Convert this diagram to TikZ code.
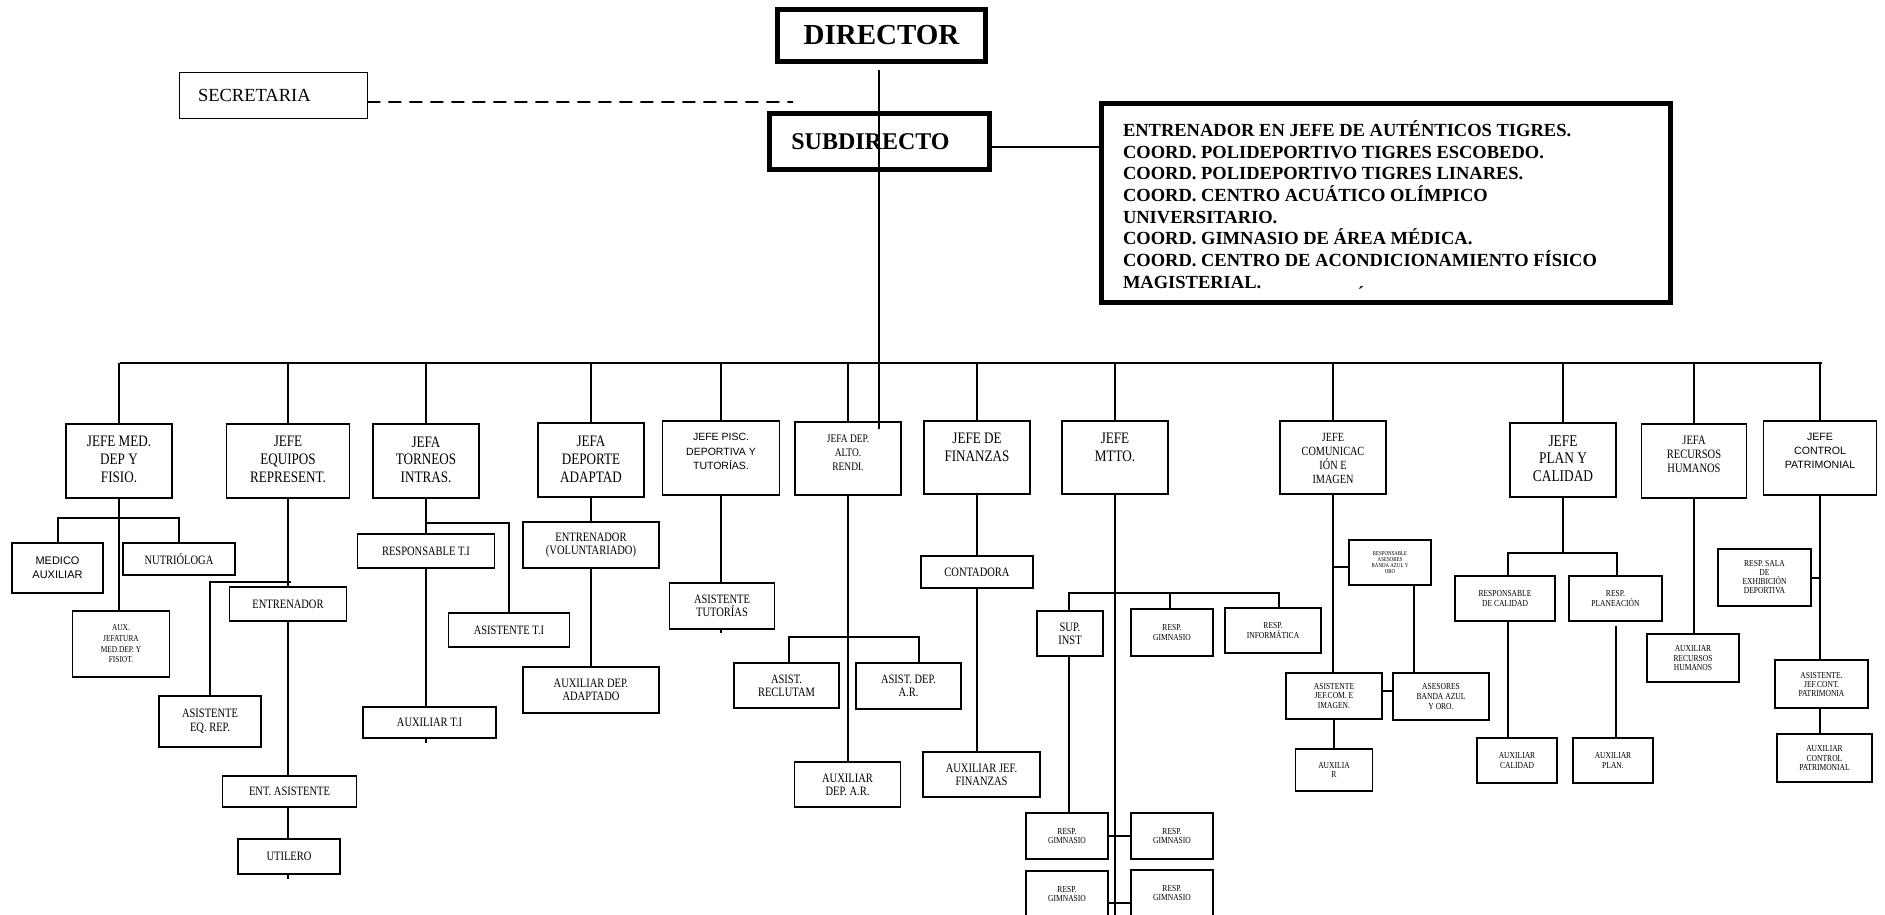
\documentclass[tikz,border=0pt]{standalone}
\usepackage{fontspec}
\setmainfont{Liberation Serif}
\newfontfamily\chartserif[FakeStretch=0.82]{Liberation Serif}
\newfontfamily\chartsans{Liberation Sans}
\usepackage{tikz}

\begin{document}
\begin{tikzpicture}[
  x=1bp, y=-1bp,
  every node/.style={inner sep=0pt},
  line/.style={line width=2bp},
  box/.style={draw, line width=1.7bp, align=center},
  cell/.style 2 args={minimum width=#1bp, minimum height=#2bp},
  head/.style 2 args={draw, line width=1.7bp,
    execute at begin node={\begin{minipage}[c][#2bp][t]{#1bp}\centering\vspace*{12.5bp}},
    execute at end node={\end{minipage}}},
  big/.style={draw, line width=4.5bp},
  fs/.style 2 args={font=\chartserif\fontsize{#1bp}{#2bp}\selectfont},
  fss/.style 2 args={font=\chartsans\fontsize{#1bp}{#2bp}\selectfont},
  midtext/.style={fs={12.8}{12.8}},
  smalltext/.style={fs={9.2}{9.8}}
]
  \path[use as bounding box, fill=white] (0,0) rectangle (1885,915);
  \clip (0,0) rectangle (1885,915);

  % Top
  \node[big, cell={208}{52}, font=\bfseries\fontsize{29bp}{32bp}\selectfont] (dir) at (881.5,35.5) {DIRECTOR};
  \node[big, cell={220}{56}, font=\bfseries\fontsize{24bp}{28bp}\selectfont] (subdir) at (879.5,141.5) {SUBDIRECTO\hspace*{18bp}};
  \node[draw, line width=0.8bp, cell={188}{46}, text width=150bp, align=left,
        font=\fontsize{18.5bp}{21bp}\selectfont] (secre) at (273,95) {SECRETARIA};
  \node[big, cell={569}{199}, font=\bfseries\fontsize{18.5bp}{21.7bp}\selectfont] (coord) at (1386,203)
    {\begin{minipage}[c][199bp][t]{526bp}\raggedright\vspace*{17bp}%
      ENTRENADOR EN JEFE DE AUTÉNTICOS TIGRES.\\
      COORD. POLIDEPORTIVO TIGRES ESCOBEDO.\\
      COORD. POLIDEPORTIVO TIGRES LINARES.\\
      COORD. CENTRO ACUÁTICO OLÍMPICO\\
      UNIVERSITARIO.\\
      COORD. GIMNASIO DE ÁREA MÉDICA.\\
      COORD. CENTRO DE ACONDICIONAMIENTO FÍSICO\\
      MAGISTERIAL.\end{minipage}};
  \node[font=\bfseries\fontsize{18.5bp}{20bp}\selectfont] (acc) at (1361,293) {´};

  \coordinate (secend) at (793,102);
  \coordinate (d0) at (879,70);
  \coordinate (d1) at (879,429);
  \coordinate (busL) at (120,363);
  \coordinate (busR) at (1822,363);

  % Heads
  \node[head={106}{74}, fs={16}{17.7}] (jmed) at (119,461) {JEFE MED.\\DEP Y\\FISIO.};
  \node[head={123}{74}, fs={16}{17.7}] (jequ) at (288,461) {JEFE\\EQUIPOS\\REPRESENT.};
  \node[head={106}{74}, fs={16}{17.7}] (jtor) at (426,461) {JEFA\\TORNEOS\\INTRAS.};
  \node[head={106}{74}, fs={16}{18}] (jada) at (591,460) {JEFA\\DEPORTE\\ADAPTAD};
  \node[head={117}{74}, fss={10.5}{14.5}] (jpis) at (721,458) {JEFE PISC.\\DEPORTIVA Y\\TUTORÍAS.};
  \node[head={106}{73}, fs={11.5}{14.3}] (jalt) at (848,458.5) {JEFA DEP.\\ALTO.\\RENDI.};
  \node[head={106}{73}, fs={16}{17.7}] (jfin) at (977,457.5) {JEFE DE\\FINANZAS};
  \node[head={106}{73}, fs={16}{17.7}] (jmtt) at (1115,457.5) {JEFE\\MTTO.};
  \node[head={106}{73}, fs={12.5}{14}] (jcom) at (1333,457.5) {JEFE\\COMUNICAC\\IÓN E\\IMAGEN};
  \node[head={106}{74}, fs={16.3}{17.5}] (jpla) at (1563,460) {JEFE\\PLAN Y\\CALIDAD};
  \node[head={105}{74}, fs={12.8}{14}] (jrec) at (1694,461) {JEFA\\RECURSOS\\HUMANOS};
  \node[head={113}{74}, fss={10.6}{14}] (jpat) at (1820,458) {JEFE\\CONTROL\\PATRIMONIAL};

  % Medicina
  \node[box, cell={91}{50}, fss={11}{14}] (medaux) at (57.5,568) {MEDICO\\AUXILIAR};
  \node[box, cell={112}{32}, midtext] (nutri) at (179,559) {NUTRIÓLOGA};
  \node[box, cell={97}{66}, fs={9}{10.7}] (auxjef) at (121,644) {AUX.\\JEFATURA\\MED.DEP. Y\\FISIOT.};

  % Equipos
  \node[box, cell={117}{34}, midtext] (entr) at (288,604) {ENTRENADOR};
  \node[box, cell={102}{51}, fs={12.8}{14}] (asiseq) at (210,721.5) {ASISTENTE\\EQ. REP.};
  \node[box, cell={134}{31}, midtext] (entasi) at (289.5,791.5) {ENT. ASISTENTE};
  \node[box, cell={102}{35}, midtext] (utilero) at (289,856.5) {UTILERO};

  % Torneos
  \node[box, cell={137}{34}, midtext] (respti) at (426,551) {RESPONSABLE T.I};
  \node[box, cell={121}{34}, midtext] (asisti) at (509,630) {ASISTENTE T.I};
  \node[box, cell={133}{31}, midtext] (auxti) at (429.5,722.5) {AUXILIAR T.I};

  % Deporte adaptado
  \node[box, cell={136}{46}, midtext] (entvol) at (591,545) {ENTRENADOR\\(VOLUNTARIADO)};
  \node[box, cell={136}{46}, midtext] (auxada) at (591,690) {AUXILIAR DEP.\\ADAPTADO};

  % Tutorias
  \node[box, cell={105}{46}, fs={12.8}{13}] (asistut) at (722,606) {ASISTENTE\\TUTORÍAS};

  % Alto rendimiento
  \node[box, cell={105}{45}, midtext] (reclu) at (786.5,685.5) {ASIST.\\RECLUTAM};
  \node[box, cell={105}{46}, midtext] (asisar) at (908.5,686) {ASIST. DEP.\\A.R.};
  \node[box, cell={106}{45}, midtext] (auxar) at (847.5,784.5) {AUXILIAR\\DEP. A.R.};

  % Finanzas
  \node[box, cell={112}{32}, midtext] (conta) at (977,572) {CONTADORA};
  \node[box, cell={117}{45}, midtext] (auxfin) at (981.5,774.5) {AUXILIAR JEF.\\FINANZAS};

  % Mantenimiento
  \node[box, cell={66}{45}, midtext] (supinst) at (1070,633.5) {SUP.\\INST};
  \node[box, cell={82}{47}, smalltext] (gim1) at (1172,632.5) {RESP.\\GIMNASIO};
  \node[box, cell={96}{45}, smalltext] (inform) at (1273,630.5) {RESP.\\INFORMÁTICA};
  \node[box, cell={82}{46}, smalltext] (gim2) at (1067,836) {RESP.\\GIMNASIO};
  \node[box, cell={82}{46}, smalltext] (gim3) at (1172,836) {RESP.\\GIMNASIO};
  \node[box, cell={82}{46}, smalltext] (gim4) at (1067,894) {RESP.\\GIMNASIO};
  \node[box, cell={82}{46}, smalltext] (gim5) at (1172,893) {RESP.\\GIMNASIO};

  % Comunicacion
  \node[box, cell={82}{45}, fs={6}{6.2}] (resase) at (1390,562.5) {RESPONSABLE\\ASESORES\\BANDA AZUL Y\\ORO};
  \node[box, cell={96}{46}, smalltext] (asijc) at (1334,696) {ASISTENTE\\JEF.COM. E\\IMAGEN.};
  \node[box, cell={96}{47}, smalltext] (asesor) at (1441,696.5) {ASESORES\\BANDA AZUL\\Y ORO.};
  \node[box, cell={77}{42}, smalltext] (auxima) at (1334,770) {AUXILIA\\R};

  % Planeacion
  \node[box, cell={100}{45}, smalltext] (respcal) at (1505,598.5) {RESPONSABLE\\DE CALIDAD};
  \node[box, cell={93}{45}, smalltext] (respla) at (1615.5,598.5) {RESP.\\PLANEACIÓN};
  \node[box, cell={80}{45}, smalltext] (auxcal) at (1517,760.5) {AUXILIAR\\CALIDAD};
  \node[box, cell={80}{45}, smalltext] (auxpla) at (1613,760.5) {AUXILIAR\\PLAN.};

  % Recursos humanos
  \node[box, cell={92}{48}, smalltext] (auxrh) at (1693,658) {AUXILIAR\\RECURSOS\\HUMANOS};

  % Patrimonio
  \node[box, cell={93}{57}, fs={9.2}{9}] (salaex) at (1764.5,577.5) {RESP. SALA\\DE\\EXHIBICIÓN\\DEPORTIVA};
  \node[box, cell={93}{48}, fs={9.2}{9}] (asipat) at (1821.5,684) {ASISTENTE.\\JEF.CONT.\\PATRIMONIA};
  \node[box, cell={95}{48}, smalltext] (auxpat) at (1824.5,758) {AUXILIAR\\CONTROL\\PATRIMONIAL};

  % Edges, top
  \draw[line width=1.8bp, dash pattern=on 13bp off 8bp] ([yshift=-7bp]secre.east) -- (secend);
  \draw[line width=1.3bp] (d0) -- (d1);
  \draw[line width=1.5bp] ([yshift=-5.5bp]subdir.east) -- ([yshift=-5.5bp]subdir.east -| coord.west);
  \draw[line width=2.2bp] (busL) -- (busR);

  % Edges, bus to heads
  \draw[line] (jmed.north) -- (jmed.north |- busL);
  \draw[line] (jequ.north) -- (jequ.north |- busL);
  \draw[line] (jtor.north) -- (jtor.north |- busL);
  \draw[line] (jada.north) -- (jada.north |- busL);
  \draw[line] (jpis.north) -- (jpis.north |- busL);
  \draw[line] (jalt.north) -- (jalt.north |- busL);
  \draw[line] (jfin.north) -- (jfin.north |- busL);
  \draw[line] (jmtt.north) -- (jmtt.north |- busL);
  \draw[line] (jcom.north) -- (jcom.north |- busL);
  \draw[line] (jpla.north) -- (jpla.north |- busL);
  \draw[line] (jrec.north) -- (jrec.north |- busL);
  \draw[line] (jpat.north) -- (jpat.north |- busL);

  % Edges, columns
  \coordinate (medbr) at (119,518);
  \draw[line] (jmed.south) -- (jmed.south |- auxjef.north);
  \draw[line] (medaux.north) |- (medbr) -| (nutri.north);

  \coordinate (eqbr) at (291,582);
  \draw[line] (jequ.south) -- (entr.north);
  \draw[line] (eqbr) -| (asiseq.north);
  \draw[line] (entr.south) -- (entr.south |- entasi.north);
  \draw[line] (entasi.south -| entr.south) -- (entr.south |- utilero.north);
  \draw[line] (utilero.south -| entr.south) -- ++(0,4);

  \coordinate (torbr) at (426,523);
  \draw[line] (jtor.south) -- (respti.north);
  \draw[line] (torbr) -| (asisti.north);
  \draw[line] (respti.south) -- (respti.south |- auxti.north);
  \draw[line] (auxti.south -| respti.south) -- ++(0,4);

  \draw[line] (jada.south) -- (entvol.north);
  \draw[line] (entvol.south) -- (auxada.north);

  \draw[line] (jpis.south) -- (jpis.south |- asistut.north);
  \draw[line] (asistut.south -| jpis.south) -- ++(0,3);

  \coordinate (altbr) at (848,637);
  \draw[line] (jalt.south) -- (jalt.south |- auxar.north);
  \draw[line] ([xshift=2.5bp]reclu.north) |- (altbr) -| ([xshift=10bp]asisar.north);

  \draw[line] (jfin.south) -- (conta.north);
  \draw[line] (conta.south) -- (conta.south |- auxfin.north);

  \coordinate (mttbr) at (1115,593);
  \coordinate (mttend) at (1115,920);
  \draw[line] (jmtt.south) -- (mttend);
  \draw[line] ([xshift=-1bp]supinst.north) |- (mttbr) -| ([xshift=6bp]inform.north);
  \draw[line] ([xshift=-2bp]gim1.north) -- ([xshift=-2bp]gim1.north |- mttbr);
  \draw[line] ([xshift=-1bp]supinst.south) -- ([xshift=-1bp]supinst.south |- gim2.north);
  \draw[line] (gim2.east) -- (gim3.west);
  \draw[line] ([yshift=-9bp]gim4.east) -- ([yshift=-9bp]gim4.east -| gim5.west);

  \draw[line] (jcom.south) -- (jcom.south |- asijc.north);
  \draw[line] ([yshift=-4.5bp]resase.west) -- ([yshift=-4.5bp]resase.west -| jcom.south);
  \draw[line] ([xshift=24bp]resase.south) -- ([xshift=24bp]resase.south |- asesor.north);
  \draw[line] ([yshift=5bp]asijc.east) -- ([yshift=5bp]asijc.east -| asesor.west);
  \draw[line] (asijc.south) -- (auxima.north);

  \coordinate (plabr) at (1563,553);
  \draw[line] (jpla.south) -- (plabr);
  \draw[line] ([xshift=3bp]respcal.north) |- (plabr) -| ([xshift=1.5bp]respla.north);
  \draw[line] ([xshift=3bp]respcal.south) -- ([xshift=3bp]respcal.south |- auxcal.north);
  \draw[line] ([yshift=-4bp]respla.south) -- (respla.south |- auxpla.north);

  \draw[line] (jrec.south) -- (jrec.south |- auxrh.north);

  \draw[line] (jpat.south) -- (jpat.south |- asipat.north);
  \draw[line] (salaex.east) -- (salaex.east -| jpat.south);
  \draw[line] (asipat.south -| jpat.south) -- (jpat.south |- auxpat.north);
\end{tikzpicture}
\end{document}
